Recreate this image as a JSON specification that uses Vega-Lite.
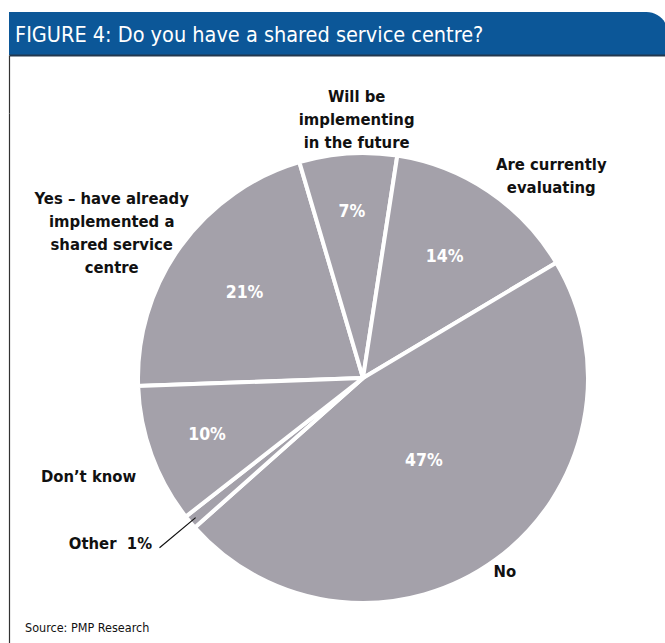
{
  "$schema": "https://vega.github.io/schema/vega-lite/v6.json",
  "padding": {"left": 6, "top": 12, "right": 0, "bottom": 0},
  "background": "white",
  "spacing": 0,
  "bounds": "flush",
  "config": {
    "view": {"stroke": null},
    "font": "'Liberation Sans Narrow', 'DejaVu Sans Condensed', 'Liberation Sans', sans-serif"
  },
  "datasets": {
    "survey": [
      {"key": "yes", "label": "Yes – have already\nimplemented a\nshared service\ncentre", "pct": "21%", "value": 21, "ord": 1},
      {"key": "will", "label": "Will be\nimplementing\nin the future", "pct": "7%", "value": 7, "ord": 2},
      {"key": "eval", "label": "Are currently\nevaluating", "pct": "14%", "value": 14, "ord": 3},
      {"key": "no", "label": "No", "pct": "47%", "value": 47, "ord": 4},
      {"key": "other", "label": "Other\u00a0 1%", "pct": "1%", "value": 1, "ord": 5},
      {"key": "dk", "label": "Don’t know", "pct": "10%", "value": 10, "ord": 6}
    ]
  },
  "vconcat": [
    {
      "width": 659,
      "height": 43,
      "data": {"values": [{"title": "FIGURE 4: Do you have a shared service centre?"}]},
      "layer": [
        {"mark": {"type": "rect", "color": "#0c5798", "cornerRadiusTopRight": 24}, "encoding": {}},
        {
          "mark": {"type": "text", "align": "left", "baseline": "middle", "dx": 6, "dy": 2, "fontSize": 21.5, "color": "white"},
          "encoding": {
            "text": {"field": "title"},
            "x": {"datum": 0, "type": "quantitative", "scale": {"domain": [0, 1]}, "axis": null}
          }
        }
      ]
    },
    {
      "width": 659,
      "height": 58,
      "data": {"values": [{"v": 0}]},
      "mark": {"type": "point", "opacity": 0},
      "encoding": {
        "x": {"datum": 0, "type": "quantitative", "scale": {"domain": [0, 1]},
              "axis": {"orient": "top", "title": null, "labels": false, "ticks": false, "grid": false, "domainColor": "#22384f", "domainWidth": 2}},
        "y": {"datum": 0, "type": "quantitative", "scale": {"domain": [0, 1]},
              "axis": {"title": null, "labels": false, "ticks": false, "grid": false, "domainColor": "#333333", "domainWidth": 1.2, "domainCap": "butt"}}
      }
    },
    {
      "hconcat": [
        {
          "width": 49,
          "height": 530,
          "data": {"values": [{"src": "Source: PMP Research"}]},
          "mark": {"type": "text", "align": "left", "baseline": "alphabetic", "dx": 16, "dy": -11, "fontSize": 12.5, "color": "#111111"},
          "encoding": {
            "text": {"field": "src"},
            "x": {"datum": 0, "type": "quantitative", "scale": {"domain": [0, 1]}, "axis": null},
            "y": {"datum": 0, "type": "quantitative", "scale": {"domain": [0, 1]},
                  "axis": {"title": null, "labels": false, "ticks": false, "grid": false, "domainColor": "#333333", "domainWidth": 1.2, "domainCap": "butt"}}
          }
        },
        {
          "width": 610,
          "height": 530,
          "data": {"name": "survey"},
          "encoding": {
            "theta": {"field": "value", "type": "quantitative", "stack": true, "scale": {"range": [4.677, 10.960]}},
            "order": {"field": "ord", "type": "quantitative"},
            "detail": {"field": "key"}
          },
          "layer": [
            {"mark": {"type": "arc", "outerRadius": 225, "color": "#a4a1aa", "stroke": "white", "strokeWidth": 4}, "encoding": {}},
            {
              "mark": {"type": "arc", "innerRadius": 218, "outerRadius": 265, "padAngle": 0.3, "filled": false, "strokeWidth": 1.2},
              "encoding": {"stroke": {"condition": {"test": "datum.key === 'other'", "value": "#111111"}, "value": "transparent"}}
            },
            {
              "mark": {"type": "text", "radius": 166, "fontSize": 17.5, "fontWeight": "bold", "color": "white", "align": "center", "baseline": "middle"},
              "encoding": {"text": {"condition": {"test": "datum.key === 'will' || datum.key === 'dk'", "field": "pct"}, "value": ""}}
            },
            {
              "mark": {"type": "text", "radius": 146, "fontSize": 17.5, "fontWeight": "bold", "color": "white", "align": "center", "baseline": "middle"},
              "encoding": {"text": {"condition": {"test": "datum.key === 'eval' || datum.key === 'yes'", "field": "pct"}, "value": ""}}
            },
            {
              "mark": {"type": "text", "radius": 103, "fontSize": 17.5, "fontWeight": "bold", "color": "white", "align": "center", "baseline": "middle"},
              "encoding": {"text": {"condition": {"test": "datum.key === 'no'", "field": "pct"}, "value": ""}}
            },
            {
              "mark": {"type": "text", "radius": 260, "dx": 11, "dy": -22, "fontSize": 16.5, "fontWeight": "bold", "color": "#111111", "align": "center", "baseline": "middle", "lineBreak": "\n", "lineHeight": 23},
              "encoding": {"text": {"condition": {"test": "datum.key === 'will'", "field": "label"}, "value": ""}}
            },
            {
              "mark": {"type": "text", "radius": 260, "dx": 43, "dy": 3, "fontSize": 16.5, "fontWeight": "bold", "color": "#111111", "align": "center", "baseline": "middle", "lineBreak": "\n", "lineHeight": 23},
              "encoding": {"text": {"condition": {"test": "datum.key === 'eval'", "field": "label"}, "value": ""}}
            },
            {
              "mark": {"type": "text", "radius": 240, "dx": 0, "dy": 0, "fontSize": 16.5, "fontWeight": "bold", "color": "#111111", "align": "center", "baseline": "middle"},
              "encoding": {"text": {"condition": {"test": "datum.key === 'no'", "field": "label"}, "value": ""}}
            },
            {
              "mark": {"type": "text", "radius": 290, "dx": -2, "dy": 0, "fontSize": 16.5, "fontWeight": "bold", "color": "#111111", "align": "center", "baseline": "middle"},
              "encoding": {"text": {"condition": {"test": "datum.key === 'dk'", "field": "label"}, "value": ""}}
            },
            {
              "mark": {"type": "text", "radius": 299, "dx": -23, "dy": -26, "fontSize": 16.5, "fontWeight": "bold", "color": "#111111", "align": "center", "baseline": "middle"},
              "encoding": {"text": {"condition": {"test": "datum.key === 'other'", "field": "label"}, "value": ""}}
            },
            {
              "mark": {"type": "text", "radius": 290, "dx": -16, "dy": -9, "fontSize": 16.5, "fontWeight": "bold", "color": "#111111", "align": "center", "baseline": "middle", "lineBreak": "\n", "lineHeight": 23},
              "encoding": {"text": {"condition": {"test": "datum.key === 'yes'", "field": "label"}, "value": ""}}
            }
          ]
        }
      ],
      "spacing": 0,
      "bounds": "flush"
    }
  ]
}
